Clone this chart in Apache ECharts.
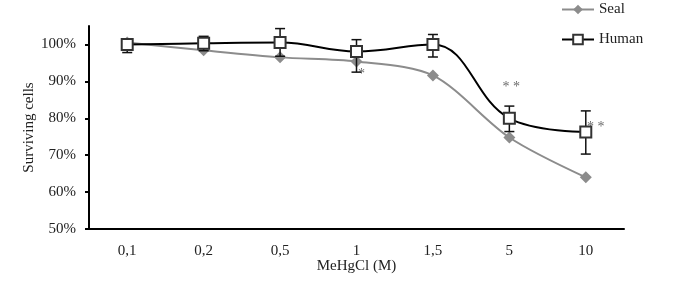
<!DOCTYPE html>
<html>
<head>
<meta charset="utf-8">
<script src="https://cdn.jsdelivr.net/npm/echarts@6/dist/echarts.min.js"></script>
<style>
  html, body { margin: 0; padding: 0; background: #fff; }
  #chart { width: 685px; height: 289px; }
</style>
</head>
<body>
<div id="chart"></div>
<script>
let doses = ['0,1', '0,2', '0,5', '1', '1,5', '5', '10'];
let sealValues = [100.5, 98.4, 96.5, 95.4, 91.6, 74.8, 64.0];
let humanValues = [100, 100.3, 100.5, 98.1, 100, 80.0, 76.3];
let humanLow = [97.8, 98.3, 96.8, 92.5, 96.6, 76.4, 70.3];
let humanHigh = [101.5, 102.2, 104.3, 101.3, 102.7, 83.3, 82.0];
let yTicks = [50, 60, 70, 80, 90, 100];
// significance marks: [dose, value, text]
let marks = [['1', 92.0, '*'], ['5', 88.5, '* *'], ['10', 77.5, '* *']];

let font = 'Liberation Serif';

let errorData = [];
for (let i = 0; i < doses.length; i++) {
    errorData.push([i, humanLow[i], humanHigh[i]]);
}

let option = {
    animation: false,
    textStyle: { fontFamily: font },
    grid: { left: 89, right: 61, top: 26, bottom: 60 },
    legend: {
        orient: 'vertical',
        left: 556,
        top: -3,
        itemWidth: 32,
        itemHeight: 12,
        itemGap: 15,
        textStyle: { fontFamily: font, fontSize: 15, color: '#222' },
        data: ['Seal', 'Human']
    },
    xAxis: {
        type: 'category',
        data: doses,
        boundaryGap: true,
        name: 'MeHgCl (M)',
        nameLocation: 'middle',
        nameGap: 30,
        nameMoveOverlap: false,
        nameTextStyle: { fontFamily: font, fontSize: 15, color: '#222' },
        axisLine: { lineStyle: { color: '#000', width: 2 } },
        axisTick: { alignWithLabel: false, length: 4, lineStyle: { color: '#000', width: 2 } },
        axisLabel: { margin: 15, fontFamily: font, fontSize: 15, color: '#222' }
    },
    yAxis: {
        type: 'value',
        min: 50,
        max: 105,
        name: 'Surviving cells',
        nameLocation: 'middle',
        nameGap: 52,
        nameMoveOverlap: false,
        nameTextStyle: { fontFamily: font, fontSize: 15, color: '#222' },
        splitLine: { show: false },
        axisLine: { show: true, lineStyle: { color: '#000', width: 2 } },
        axisTick: { show: true, length: 4, customValues: yTicks, lineStyle: { color: '#000', width: 2 } },
        axisLabel: {
            margin: 13, fontFamily: font, fontSize: 15, color: '#222',
            customValues: yTicks,
            formatter: v => v + '%'
        }
    },
    series: [
        {
            name: 'Seal',
            type: 'line',
            data: sealValues,
            smooth: 0.3,
            symbol: 'diamond',
            symbolSize: 12,
            lineStyle: { color: '#8c8c8c', width: 2 },
            itemStyle: { color: '#8c8c8c' },
            z: 2
        },
        {
            name: 'Error',
            type: 'custom',
            data: errorData,
            z: 3,
            renderItem: function (params, api) {
                let x = api.value(0);
                let lo = api.coord([x, api.value(1)]);
                let hi = api.coord([x, api.value(2)]);
                let w = 5;
                let style = { stroke: '#111', lineWidth: 1.5 };
                return {
                    type: 'group',
                    children: [
                        { type: 'line', shape: { x1: lo[0], y1: lo[1], x2: hi[0], y2: hi[1] }, style: style },
                        { type: 'line', shape: { x1: lo[0] - w, y1: lo[1], x2: lo[0] + w, y2: lo[1] }, style: style },
                        { type: 'line', shape: { x1: hi[0] - w, y1: hi[1], x2: hi[0] + w, y2: hi[1] }, style: style }
                    ]
                };
            }
        },
        {
            name: 'Human',
            type: 'line',
            data: humanValues,
            smooth: 0.4,
            symbol: 'rect',
            symbolSize: 11,
            lineStyle: { color: '#000', width: 2 },
            itemStyle: { color: '#fff', borderColor: '#333', borderWidth: 2 },
            z: 4
        },
        {
            name: 'Marks',
            type: 'scatter',
            symbolSize: 0,
            silent: true,
            data: marks.map(m => ({ value: [m[0], m[1]], label: { formatter: m[2] } })),
            label: {
                show: true,
                position: 'inside',
                fontFamily: font,
                fontSize: 14,
                color: '#444'
            },
            z: 5
        }
    ]
};

// shift the marks off the points like in the figure
option.series[3].data[0].label.offset = [5, 0];
option.series[3].data[1].label.offset = [2, 0];
option.series[3].data[2].label.offset = [10, 0];

let chart = echarts.init(document.getElementById('chart'));
chart.setOption(option);
</script>
</body>
</html>
